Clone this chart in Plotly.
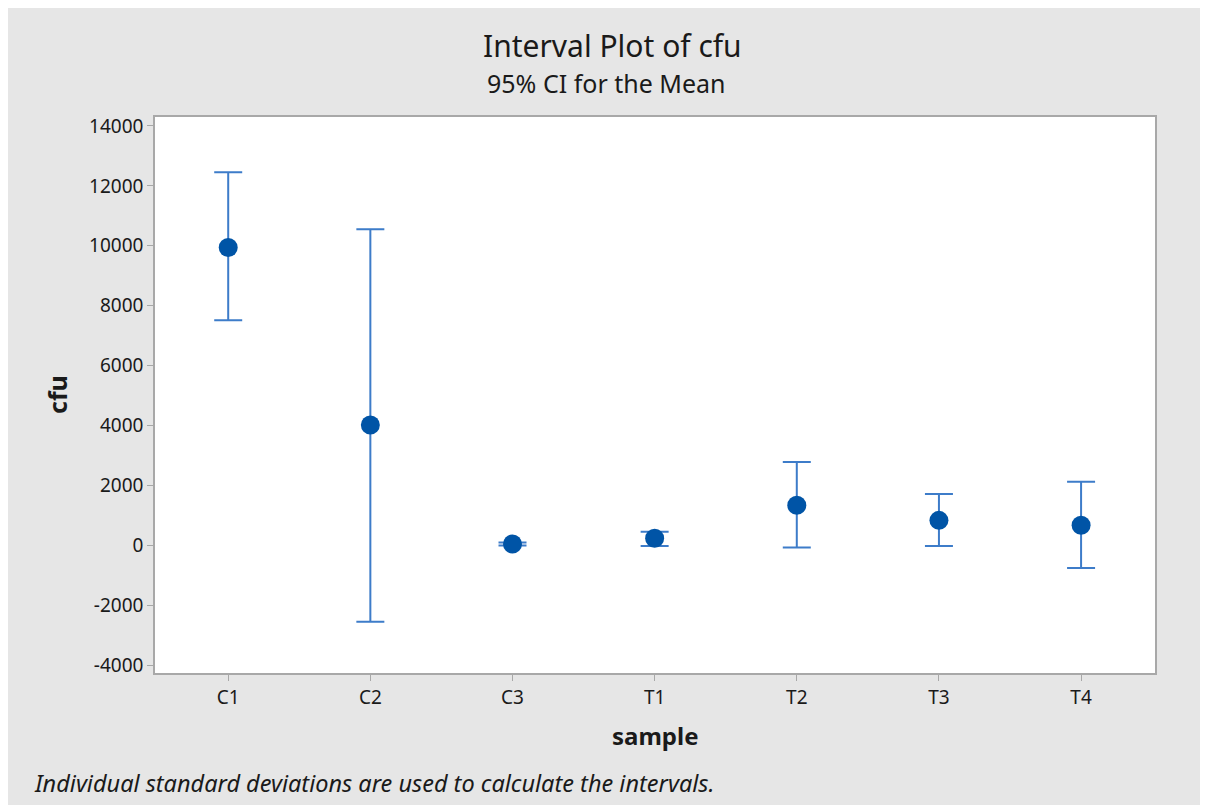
import plotly.graph_objects as go

samples = ["C1", "C2", "C3", "T1", "T2", "T3", "T4"]
means = [9940, 4015, 40, 230, 1333, 830, 665]
upper = [12455, 10551, 90, 450, 2780, 1710, 2120]
lower = [7512, -2555, -10, -30, -80, -30, -760]

y_ticks = [-4000, -2000, 0, 2000, 4000, 6000, 8000, 10000, 12000, 14000]

err_plus = [u - m for u, m in zip(upper, means)]
err_minus = [m - l for m, l in zip(means, lower)]

FONT = "Noto Sans"
TXT = "#1A1A1A"

fig = go.Figure()
fig.add_trace(go.Scatter(
    x=samples, y=means, mode="markers",
    marker=dict(size=19, color="#0054A6"),
    error_y=dict(type="data", symmetric=False, array=err_plus, arrayminus=err_minus,
                 color="#3D7CC9", thickness=2, width=14),
    showlegend=False,
))

fig.update_layout(
    width=1208, height=805,
    paper_bgcolor="#E6E6E6", plot_bgcolor="#FFFFFF",
    margin=dict(l=147, r=61, t=109, b=140),
    font=dict(family=FONT, color=TXT),
    xaxis=dict(
        range=[-0.515, 6.52], showgrid=False, zeroline=False,
        showline=True, mirror=True, linecolor="#A8A8A8", linewidth=1.5,
        ticks="outside", ticklen=6, tickcolor="#A8A8A8",
        tickfont=dict(size=19, color=TXT),
    ),
    yaxis=dict(
        range=[-4267, 14300], showgrid=False, zeroline=False,
        tickvals=y_ticks, ticktext=[str(v) for v in y_ticks],
        showline=True, mirror=True, linecolor="#A8A8A8", linewidth=1.5,
        ticks="outside", ticklen=6, tickcolor="#A8A8A8",
        tickfont=dict(size=19, color=TXT),
    ),
    annotations=[
        dict(text="Interval Plot of cfu", xref="paper", yref="paper", x=0.457, y=1,
             xanchor="center", yanchor="middle", yshift=72, showarrow=False,
             font=dict(size=30, color=TXT)),
        dict(text="95% CI for the Mean", xref="paper", yref="paper", x=0.451, y=1,
             xanchor="center", yanchor="middle", yshift=34, showarrow=False,
             font=dict(size=25, color=TXT)),
        dict(text="<b>sample</b>", xref="paper", yref="paper", x=0.5, y=0,
             xanchor="center", yanchor="middle", yshift=-62, showarrow=False,
             font=dict(size=24, color=TXT)),
        dict(text="<b>cfu</b>", xref="paper", yref="paper", x=0, y=0.5,
             xanchor="center", yanchor="middle", xshift=-98, textangle=-90,
             showarrow=False, font=dict(size=25, color=TXT)),
        dict(text="<i>Individual standard deviations are used to calculate the intervals.</i>",
             xref="paper", yref="paper", x=0, y=0, xanchor="left", yanchor="middle",
             xshift=-123, yshift=-110, showarrow=False,
             font=dict(size=23.5, color=TXT)),
    ],
)

fig.write_html("out.html")
